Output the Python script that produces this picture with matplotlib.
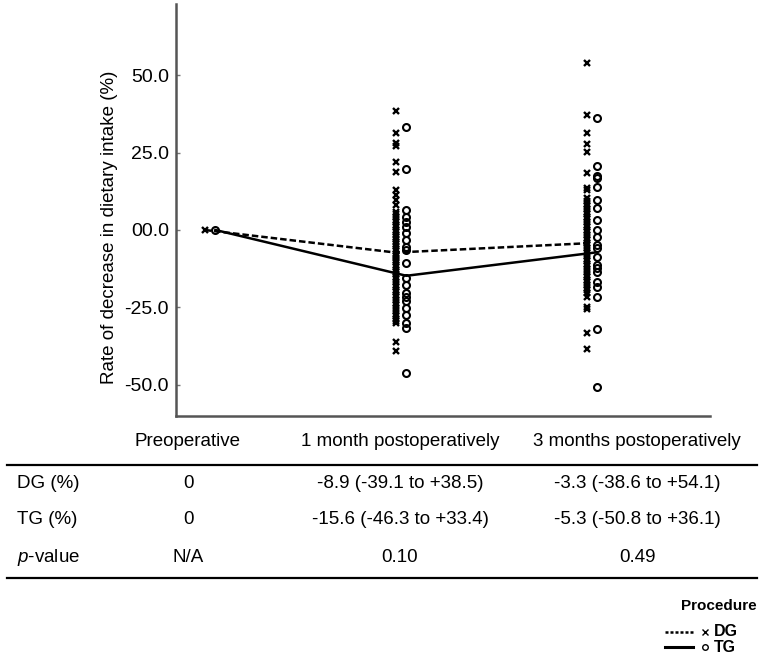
import matplotlib
matplotlib.use('Agg')
import matplotlib.pyplot as plt
from matplotlib.lines import Line2D

plt.rcParams['font.family'] = ['Liberation Sans', 'DejaVu Sans']
plt.rcParams['mathtext.fontset'] = 'custom'
plt.rcParams['mathtext.rm'] = 'Liberation Sans'
plt.rcParams['mathtext.it'] = 'Liberation Sans:italic'

# 時間點
periods = ['Preoperative', '1 month postoperatively', '3 months postoperatively']

# 各時間點的個別數值
dg_pre = [0.0]
tg_pre = [0.0]
dg_1m = [38.5, 31.2, 28.0, 27.0, 22.1, 18.8, 12.9, 11.3, 9.7, 8.1, 5.9, 5.0, 4.2,
         3.1, 2.5, 1.6, 0.8, 0.0, -0.7, -1.5, -2.2, -3.0, -3.9, -4.6, -5.3, -6.1,
         -6.8, -7.7, -8.4, -8.9, -9.6, -10.5, -11.2, -12.0, -12.9, -13.6, -14.3,
         -15.2, -16.0, -16.8, -17.7, -18.4, -19.3, -20.1, -20.9, -21.8, -22.6,
         -23.5, -24.4, -25.3, -26.1, -27.0, -27.9, -28.8, -29.5, -30.1, -36.1, -39.1]
tg_1m = [33.4, 19.6, 6.5, 4.3, 2.7, 1.1, -1.1, -3.2, -5.4, -6.6, -10.8, -15.6, -17.8,
         -20.5, -21.5, -23.1, -25.3, -27.5, -30.1, -31.8, -46.3]
dg_3m = [54.1, 37.1, 31.4, 27.8, 25.3, 18.3, 13.5, 12.8, 10.2, 9.4, 8.5, 7.6, 6.8,
         5.9, 5.1, 4.3, 3.4, 2.6, 1.7, 0.9, 0.0, -0.8, -1.7, -2.5, -3.3, -4.2, -5.0,
         -5.9, -6.7, -7.6, -8.4, -9.3, -10.1, -11.0, -11.8, -12.7, -13.5, -14.4,
         -15.2, -16.1, -16.9, -17.8, -18.6, -19.5, -20.3, -21.5, -25.0, -25.6,
         -33.4, -38.6]
tg_3m = [36.1, 20.7, 17.4, 16.8, 14.0, 9.7, 7.0, 3.2, 0.0, -2.2, -4.8, -5.9, -8.6,
         -11.3, -12.4, -13.5, -16.7, -18.3, -21.5, -32.1, -50.8]

# 平均線
dg_mean = [0.0, -7.3, -4.3]
tg_mean = [0.0, -14.8, -7.2]

# 表格內容
row_labels = ['DG (%)', 'TG (%)', '$\\it{p}$-value']
table_dg = ['0', '-8.9 (-39.1 to +38.5)', '-3.3 (-38.6 to +54.1)']
table_tg = ['0', '-15.6 (-46.3 to +33.4)', '-5.3 (-50.8 to +36.1)']
table_p = ['N/A', '0.10', '0.49']

yticks = [50, 25, 0, -25, -50]
ytick_labels = ['50.0', '25.0', '00.0', '-25.0', '-50.0']

W, H = 767, 664
fig = plt.figure(figsize=(W / 100, H / 100), dpi=100)
ax = fig.add_axes([176 / W, 1 - 416 / H, (710 - 176) / W, (416 - 4) / H])

off = 0.028
dg_groups = [dg_pre, dg_1m, dg_3m]
tg_groups = [tg_pre, tg_1m, tg_3m]
for i in range(3):
    ax.plot([i - off] * len(dg_groups[i]), dg_groups[i], linestyle='none',
            marker='x', ms=4.5, mew=1.7, color='black')
    ax.plot([i + off] * len(tg_groups[i]), tg_groups[i], linestyle='none',
            marker='o', ms=5, mew=1.5, mfc='none', color='black')

xs = list(range(3))
ax.plot([x - off for x in xs], dg_mean, color='black', lw=1.8,
        linestyle=(0, (2.6, 1.2)))
ax.plot([x + off for x in xs], tg_mean, color='black', lw=1.8)

ax.set_xlim(-0.178, 2.618)
ax.set_ylim(-60.1, 73.0)
ax.set_xticks([])
ax.set_yticks(yticks)
ax.set_yticklabels(ytick_labels, fontsize=14)
ax.tick_params(axis='y', direction='in', length=3, width=1, color='#777777', pad=5)
for s in ['top', 'right']:
    ax.spines[s].set_visible(False)
for s in ['left', 'bottom']:
    ax.spines[s].set_color('#555555')
    ax.spines[s].set_linewidth(1.8)
ax.set_ylabel('Rate of decrease in dietary intake (%)', fontsize=13.5)
ax.yaxis.set_label_coords(-0.108, 0.457)

# 表格
def fy(py):
    return 1 - py / H

col_x = [188 / W, 400 / W, 637 / W]
for j, name in enumerate(periods):
    fig.text(col_x[j], fy(442), name, ha='center', va='center', fontsize=13.5)
rows = [table_dg, table_tg, table_p]
row_y = [483, 520, 557]
for r in range(3):
    fig.text(17 / W, fy(row_y[r]), row_labels[r], ha='left', va='center', fontsize=13.5)
    for j in range(3):
        fig.text(col_x[j], fy(row_y[r]), rows[r][j], ha='center', va='center',
                 fontsize=13.5)
for py in [465, 578]:
    fig.add_artist(Line2D([7 / W, 757 / W], [fy(py), fy(py)], color='black', lw=1.6))

# 圖例
fig.text(757 / W, fy(606), 'Procedure', ha='right', va='center', fontsize=11,
         fontweight='bold')
fig.add_artist(Line2D([665 / W, 693 / W], [fy(632), fy(632)], color='black', lw=1.8,
                      linestyle=(0, (1.2, 0.8))))
fig.add_artist(Line2D([705 / W], [fy(632)], marker='x', ms=4, mew=1, color='black',
                      linestyle='none'))
fig.text(714 / W, fy(632), 'DG', ha='left', va='center', fontsize=11.5, fontweight='bold')
fig.add_artist(Line2D([665 / W, 693 / W], [fy(647), fy(647)], color='black', lw=2.2))
fig.add_artist(Line2D([705 / W], [fy(647)], marker='o', ms=4, mew=1, mfc='none',
                      color='black', linestyle='none'))
fig.text(714 / W, fy(647), 'TG', ha='left', va='center', fontsize=11.5, fontweight='bold')

fig.savefig('out.png', dpi=100)
